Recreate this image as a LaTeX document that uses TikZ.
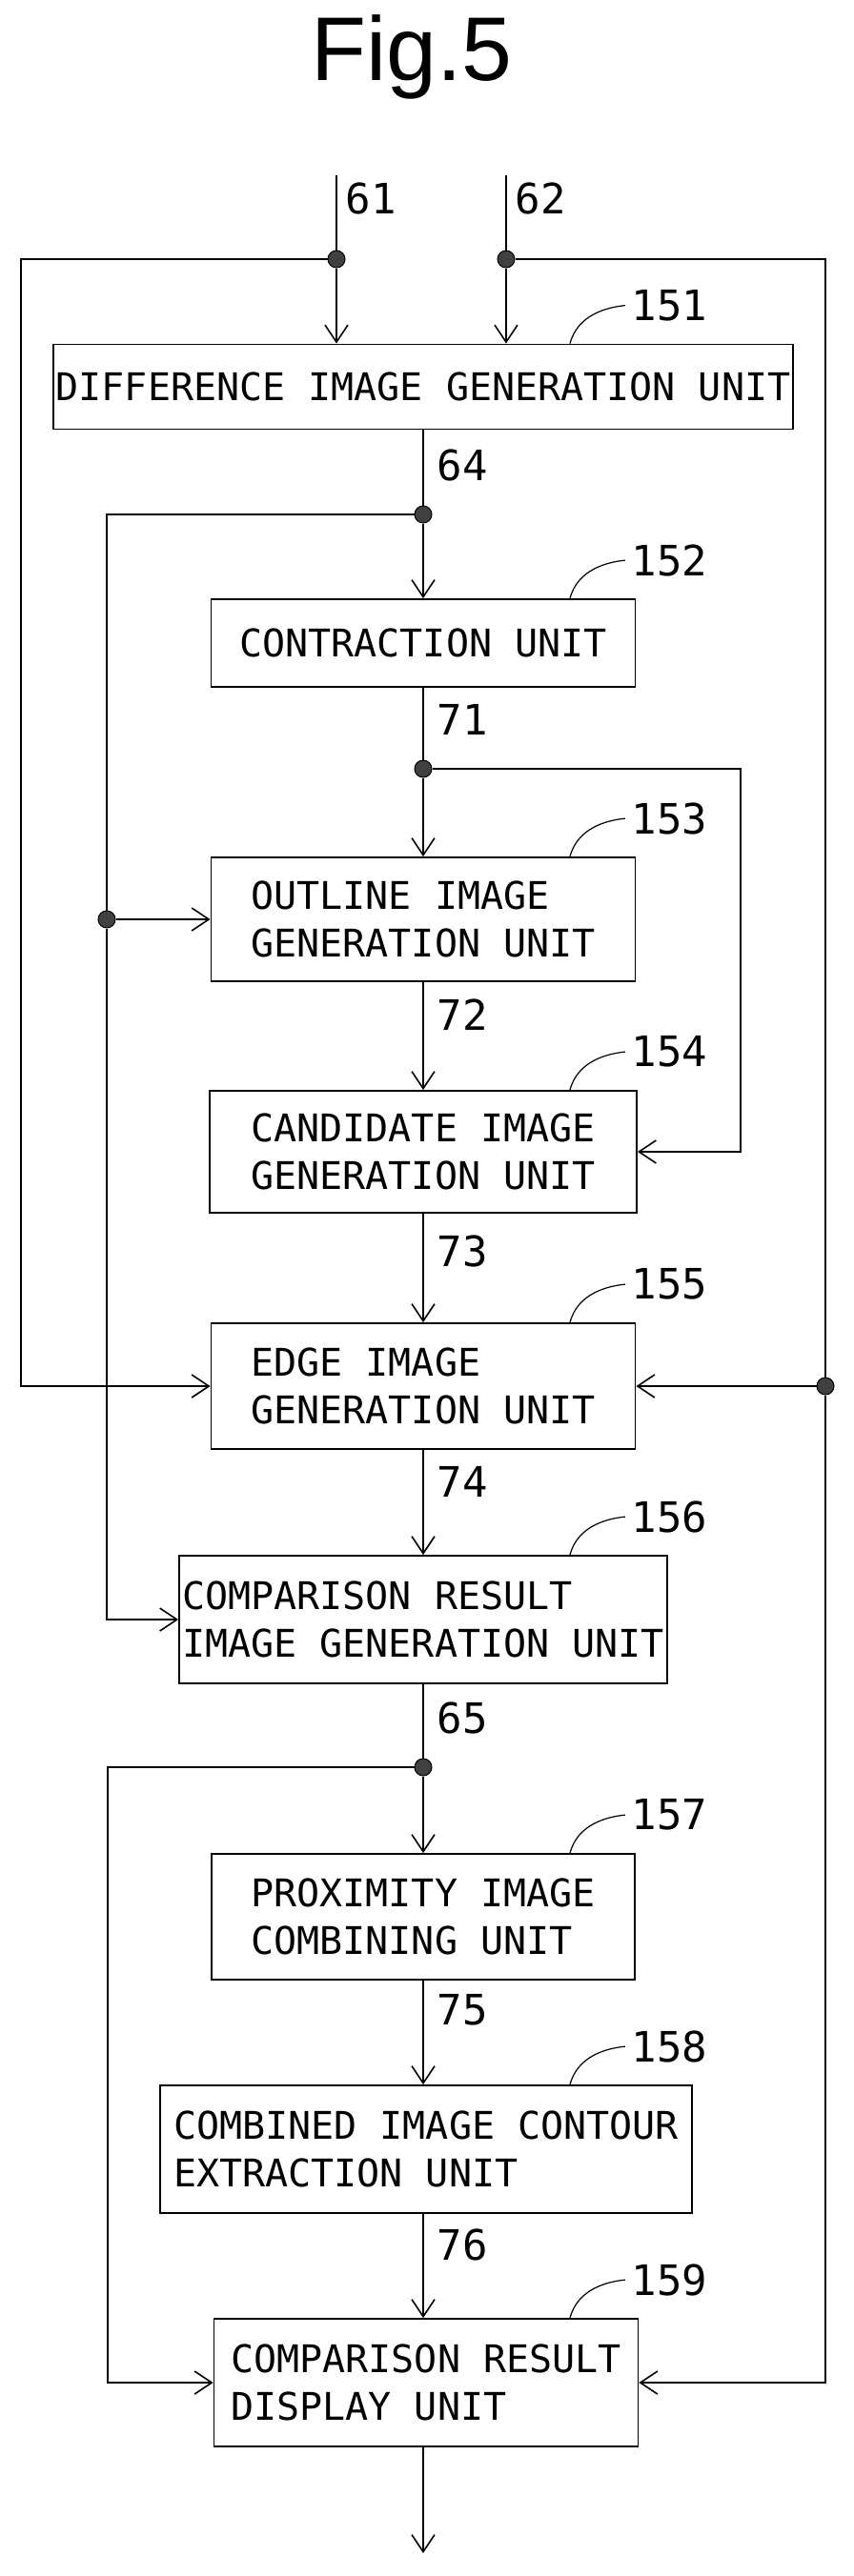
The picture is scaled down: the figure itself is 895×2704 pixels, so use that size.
\documentclass[tikz,border=0pt]{standalone}
\usepackage{fontspec}
\setmainfont{Liberation Sans}
\newfontfamily\boxfont{DejaVu Sans Mono}
\usetikzlibrary{arrows.meta}
\begin{document}
\begin{tikzpicture}[x=1pt,y=-1pt,line width=1.8pt,
  box/.style={draw,rectangle,inner sep=0pt,align=left,font=\boxfont\fontsize{40}{50}\selectfont},
  arr/.style={-{Straight Barb[length=18pt,width=24pt,line width=1.6pt]}},
  dot/.style={circle,fill=black!75,draw=black,line width=1pt,minimum size=18pt,inner sep=0pt},
  lab/.style={font=\boxfont\fontsize{44}{44}\selectfont,inner sep=0pt},
  wl/.style={lab,anchor=west}]
\useasboundingbox (0,0) rectangle (895,2704);
\node[font=\fontsize{95}{95}\selectfont] (title) at (432,60) {Fig.5};
% boxes
\node[box,minimum width=776pt,minimum height=89pt] (b151) at (444,406) {DIFFERENCE IMAGE GENERATION UNIT};
\node[box,minimum width=445pt,minimum height=92pt] (b152) at (444,675) {CONTRACTION UNIT};
\node[box,minimum width=445pt,minimum height=130pt] (b153) at (444,965) {OUTLINE IMAGE\\GENERATION UNIT};
\node[box,minimum width=448pt,minimum height=128pt] (b154) at (444,1209) {CANDIDATE IMAGE\\GENERATION UNIT};
\node[box,minimum width=445pt,minimum height=132pt] (b155) at (444,1455) {EDGE IMAGE\\GENERATION UNIT};
\node[box,minimum width=512pt,minimum height=134pt] (b156) at (444,1700) {COMPARISON RESULT\\IMAGE GENERATION UNIT};
\node[box,minimum width=444pt,minimum height=132pt] (b157) at (444,2012) {PROXIMITY IMAGE\\COMBINING UNIT};
\node[box,minimum width=558pt,minimum height=134pt] (b158) at (447,2256) {COMBINED IMAGE CONTOUR\\EXTRACTION UNIT};
\node[box,minimum width=445pt,minimum height=134pt] (b159) at (447,2501) {COMPARISON RESULT\\DISPLAY UNIT};
% reference labels with leaders
\foreach \b/\t in {b151/151,b152/152,b153/153,b154/154,b155/155,b156/156,b157/157,b158/158,b159/159}{
  \draw[line width=1.2pt] (\b.north -| 598,0) .. controls ++(8,-30) and ++(-20,2) .. ++(58,-40) coordinate (e\t);
  \node[lab,anchor=west] (r\t) at ([xshift=6pt]e\t) {\t};
}
% junctions
\node[dot] (j61) at (353,272) {};
\node[dot] (j62) at (531,272) {};
\node[dot] (j64) at (444,540) {};
\node[dot] (j71) at (444,807) {};
\node[dot] (jL) at (112,965) {};
\node[dot] (jR) at (866,1455) {};
\node[dot] (j65) at (444,1855) {};
\coordinate (t61) at (353,184);
\coordinate (t62) at (531,184);
\coordinate (out) at (444,2680);
% connectors
\draw[arr] (t61) -- (j61) -- (b151.north -| j61);
\draw[arr] (t62) -- (j62) -- (b151.north -| j62);
\draw[arr] (j61) -- (22,272) -- (22,1455) -- (b155.west);
\draw (j62) -- (866,272) -- (jR);
\draw[arr] (jR) -- (b155.east);
\draw[arr] (jR) -- (866,2501) -- (b159.east);
\draw[arr] (b151.south) -- (j64) -- (b152.north);
\draw (j64) -- (112,540) -- (jL);
\draw[arr] (jL) -- (b153.west);
\draw[arr] (jL) -- (112,1700) -- (b156.west);
\draw[arr] (b152.south) -- (j71) -- (b153.north);
\draw[arr] (j71) -- (777,807) -- (777,1209) -- (b154.east);
\draw[arr] (b153.south) -- (b154.north);
\draw[arr] (b154.south) -- (b155.north);
\draw[arr] (b155.south) -- (b156.north);
\draw[arr] (b156.south) -- (j65) -- (b157.north);
\draw[arr] (j65) -- (113,1855) -- (113,2501) -- (b159.west);
\draw[arr] (b157.south) -- (b158.north -| b157.south);
\draw[arr] (b158.south -| b157.south) -- (b159.north -| b157.south);
\draw[arr] (b159.south -| b157.south) -- (out);
% wire labels
\node[lab,anchor=west] (l61) at (362,208) {61};
\node[lab,anchor=west] (l62) at (540,208) {62};
\node[wl] (l64) at (458,488) {64};
\node[wl] (l71) at (458,755) {71};
\node[wl] (l72) at (458,1065) {72};
\node[wl] (l73) at (458,1313) {73};
\node[wl] (l74) at (458,1555) {74};
\node[wl] (l65) at (458,1803) {65};
\node[wl] (l75) at (458,2110) {75};
\node[wl] (l76) at (458,2356) {76};
\end{tikzpicture}
\end{document}
